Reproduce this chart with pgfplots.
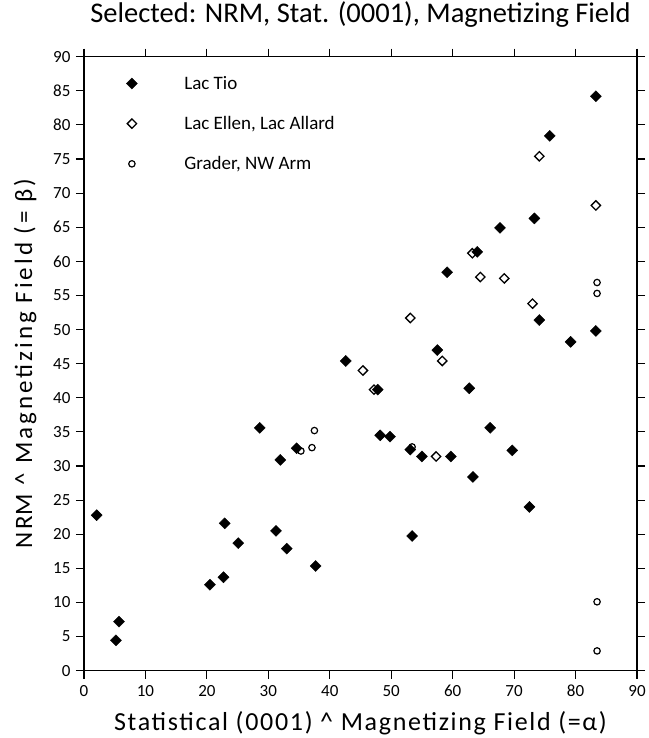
\documentclass[border=0pt]{standalone}
\usepackage{pgfplots}
\pgfplotsset{compat=1.18}
\usepackage{fontspec}
\setmainfont{Carlito}
\pgfplotsset{
  mylegend/.style={legend image code/.code={\path[draw=none] (0cm,0cm) -- (2.02cm,0cm); \draw[##1] plot coordinates {(0.25cm,0cm)};}}
}
\begin{document}
\begin{tikzpicture}
\begin{axis}[
  name=ax,
  scale only axis,
  width=553pt, height=614pt,
  xmin=0, xmax=90, ymin=0, ymax=90,
  xtick={0,10,...,90}, ytick={0,5,...,90},
  tick align=outside, tick pos=both,
  xticklabel pos=left, yticklabel pos=left,
  major tick length=8pt,
  axis line style={line width=1.5pt},
  every tick/.style={black, line width=1.1pt},
  tick label style={font=\fontsize{17}{17}\selectfont},
  xticklabel style={yshift=-3pt},
  yticklabel style={xshift=-2pt},
  /pgf/number format/assume math mode=true,
  xlabel={Statistical (0001) \textasciicircum{} Magnetizing Field (=α)},
  ylabel={NR\kern1pt M \textasciicircum{} Magnetizing Field (= β)},
  xlabel style={at={(axis description cs:0.5,0)}, anchor=base, yshift=-59.3pt, inner sep=0pt,
    font=\fontsize{26}{26}\selectfont\addfontfeature{LetterSpace=6.5}},
  ylabel style={at={(axis description cs:-0.094,0.5)}, anchor=base, inner sep=0pt,
    font=\fontsize{25}{25}\selectfont\addfontfeature{LetterSpace=12}},
  title={Selected: NRM, Stat. (0001), Magnetizing Field},
  title style={at={(axis description cs:0.5,1)}, anchor=base, yshift=27.7pt, inner sep=0pt,
    font=\fontsize{28.5}{28.5}\selectfont},
  legend style={at={(rel axis cs:0.068,0.975)}, anchor=north west, draw=none, fill=none,
    font=\fontsize{19}{19}\selectfont, row sep=21.5pt},
  legend cell align=left,
]
\addplot[only marks, mark=square*, mark size=3.9pt, mark options={rotate=45, fill=black, draw=black}, mylegend] coordinates {
(2.06,22.8) (5.2,4.45) (5.7,7.2) (20.5,12.6) (22.7,13.7) (22.9,21.6) (25.1,18.7)
(28.6,35.6) (31.25,20.5) (31.95,30.9) (33.0,17.9) (34.6,32.6) (37.7,15.35)
(42.6,45.4) (47.8,41.2) (48.2,34.5) (49.8,34.3) (53.1,32.4) (53.4,19.75)
(55.0,31.4) (57.5,47.0) (59.1,58.4) (59.7,31.4) (62.7,41.4) (63.3,28.4)
(64.0,61.4) (66.1,35.6) (67.7,64.9) (69.7,32.3) (72.5,24.0) (73.3,66.3)
(74.1,51.4) (75.8,78.4) (79.2,48.2) (83.3,84.2) (83.3,49.8)
};
\addlegendentry{Lac Tio}
\addplot[only marks, mark=square, mark size=3.3pt, mark options={rotate=45, draw=black, fill=white, line width=1.3pt}, mylegend] coordinates {
(45.4,44.0) (47.2,41.2) (53.1,51.7) (57.3,31.4) (58.3,45.4) (63.2,61.2)
(64.5,57.7) (68.4,57.5) (73.0,53.8) (74.1,75.4) (83.3,68.2)
};
\addlegendentry{Lac Ellen, Lac Allard}
\addplot[only marks, mark=o, mark size=3.2pt, mark options={draw=black, fill=white, line width=1.2pt}, mylegend] coordinates {
(35.3,32.2) (37.1,32.7) (37.5,35.2) (53.4,32.8) (83.5,56.9) (83.5,55.3)
(83.5,10.1) (83.5,2.9)
};
\addlegendentry{Grader, NW Arm}
\end{axis}
\path (ax.south west) ++(-84pt,-67.3pt) rectangle ++(644pt,738pt);
\end{tikzpicture}
\end{document}
